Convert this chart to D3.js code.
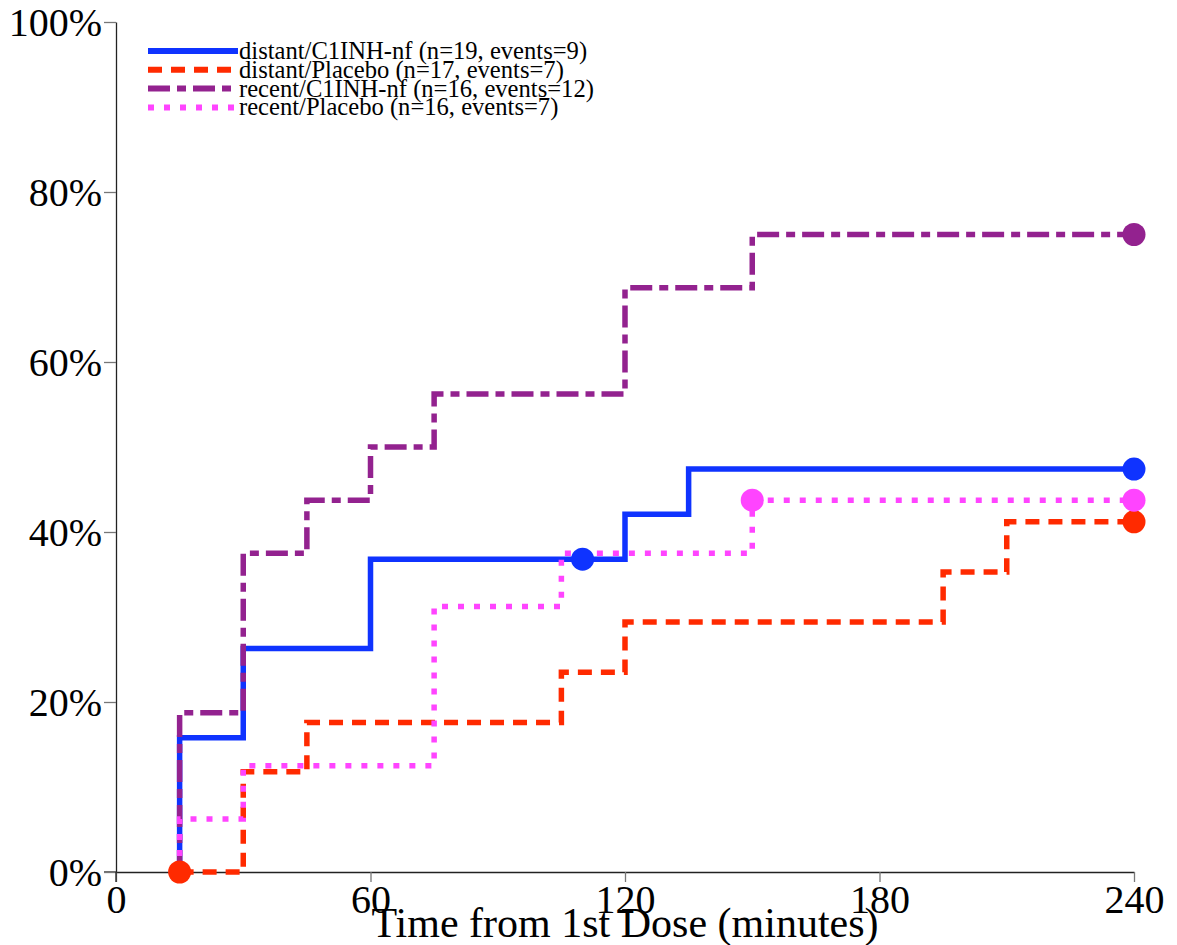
<!DOCTYPE html>
<html><head><meta charset="utf-8">
<script src="https://cdn.jsdelivr.net/npm/d3@7"></script>
<style>body{margin:0;background:#fff}svg{display:block}text{font-family:"Liberation Serif","DejaVu Serif",serif}</style>
</head><body><svg id="c" width="1177" height="945"></svg>
<script>
const xTicks = [0, 60, 120, 180, 240];
const yTicks = [0, 20, 40, 60, 80, 100];
const seriesNames = ["distant/C1INH-nf (n=19, events=9)", "distant/Placebo (n=17, events=7)", "recent/C1INH-nf (n=16, events=12)", "recent/Placebo (n=16, events=7)"];
const blueTimes = [15, 15, 30, 60, 120, 135, 240];
const blueVals  = [0, 15.8, 26.3, 36.8, 42.1, 47.4, 47.4];
const redTimes  = [15, 30, 45, 105, 120, 195, 210, 240];
const redVals   = [0, 11.8, 17.6, 23.5, 29.4, 35.3, 41.2, 41.2];
const purpleTimes = [15, 15, 30, 45, 60, 75, 120, 150, 240];
const purpleVals  = [0, 18.75, 37.5, 43.75, 50, 56.25, 68.75, 75, 75];
const magentaTimes = [15, 15, 30, 75, 105, 150, 240];
const magentaVals  = [0, 6.25, 12.5, 31.25, 37.5, 43.75, 43.75];
const blueCensor = [110, 240];
const redCensor = [15, 240];
const purpleCensor = [240];
const magentaCensor = [150, 240];

const styles = [
  {color:"#0f33ff", dash:null},
  {color:"#ff2a00", dash:"14,9"},
  {color:"#93228f", dash:"22,7,9,7"},
  {color:"#ff44ff", dash:"6,10"}
];
const series = [
  {t:blueTimes, v:blueVals, c:blueCensor},
  {t:redTimes, v:redVals, c:redCensor},
  {t:purpleTimes, v:purpleVals, c:purpleCensor},
  {t:magentaTimes, v:magentaVals, c:magentaCensor}
];

const svg = d3.select("#c");
const x = d3.scaleLinear().domain([0,240]).range([116,1134]);
const y = d3.scaleLinear().domain([0,100]).range([872,22]);

// axes
const xAxis = svg.append("g").attr("transform","translate(0,872)")
  .call(d3.axisBottom(x).tickValues(xTicks).tickSize(10).tickSizeOuter(0).tickPadding(2));
xAxis.select(".domain").attr("stroke","#222").attr("stroke-width",1.3);
xAxis.selectAll(".tick line").attr("stroke","#777").attr("stroke-width",1.3);
xAxis.selectAll(".tick text").attr("font-size",40).attr("fill","#000").attr("dy","0.72em");
svg.append("line").attr("x1",104).attr("x2",116).attr("y1",872).attr("y2",872).attr("stroke","#222").attr("stroke-width",1.3);

const yAxis = svg.append("g").attr("transform","translate(116,0)")
  .call(d3.axisLeft(y).tickValues(yTicks).tickFormat(d=>d+"%").tickSize(12).tickSizeOuter(0).tickPadding(2));
yAxis.select(".domain").attr("stroke","#222").attr("stroke-width",1.3);
yAxis.selectAll(".tick line").attr("stroke","#777").attr("stroke-width",1.3);
yAxis.selectAll(".tick text").attr("font-size",40).attr("fill","#000").attr("dy","0.33em");
svg.append("line").attr("x1",116).attr("x2",116).attr("y1",872).attr("y2",882).attr("stroke","#222").attr("stroke-width",1.3);

svg.append("text").attr("x",(x(0)+x(240))/2).attr("y",937).attr("text-anchor","middle")
  .attr("font-size",42).attr("fill","#000").text("Time from 1st Dose (minutes)");

// lines
const line = d3.line().x(d=>x(d[0])).y(d=>y(d[1])).curve(d3.curveStepAfter);
series.forEach((s,i)=>{
  const pts = s.t.map((t,j)=>[t, s.v[j]]);
  svg.append("path").attr("d", line(pts)).attr("fill","none")
    .attr("stroke", styles[i].color).attr("stroke-width",5.5)
    .attr("stroke-dasharray", styles[i].dash);
});
function valAt(s, t){ let v = 0; s.t.forEach((tt,j)=>{ if (tt<=t) v = s.v[j]; }); return v; }
series.forEach((s,i)=>{
  s.c.forEach(t=>{
    svg.append("circle").attr("cx",x(t)).attr("cy",y(valAt(s,t))).attr("r",11.5).attr("fill",styles[i].color);
  });
});

// legend
const lg = svg.append("g");
seriesNames.forEach((name,i)=>{
  const ly = 51 + i*18.8;
  lg.append("line").attr("x1",148).attr("x2",238).attr("y1",ly).attr("y2",ly)
    .attr("stroke",styles[i].color).attr("stroke-width",6).attr("stroke-dasharray",styles[i].dash);
  lg.append("text").attr("x",239).attr("y",ly+8).attr("font-size",24.6).attr("fill","#000").text(name);
});
</script></body></html>
